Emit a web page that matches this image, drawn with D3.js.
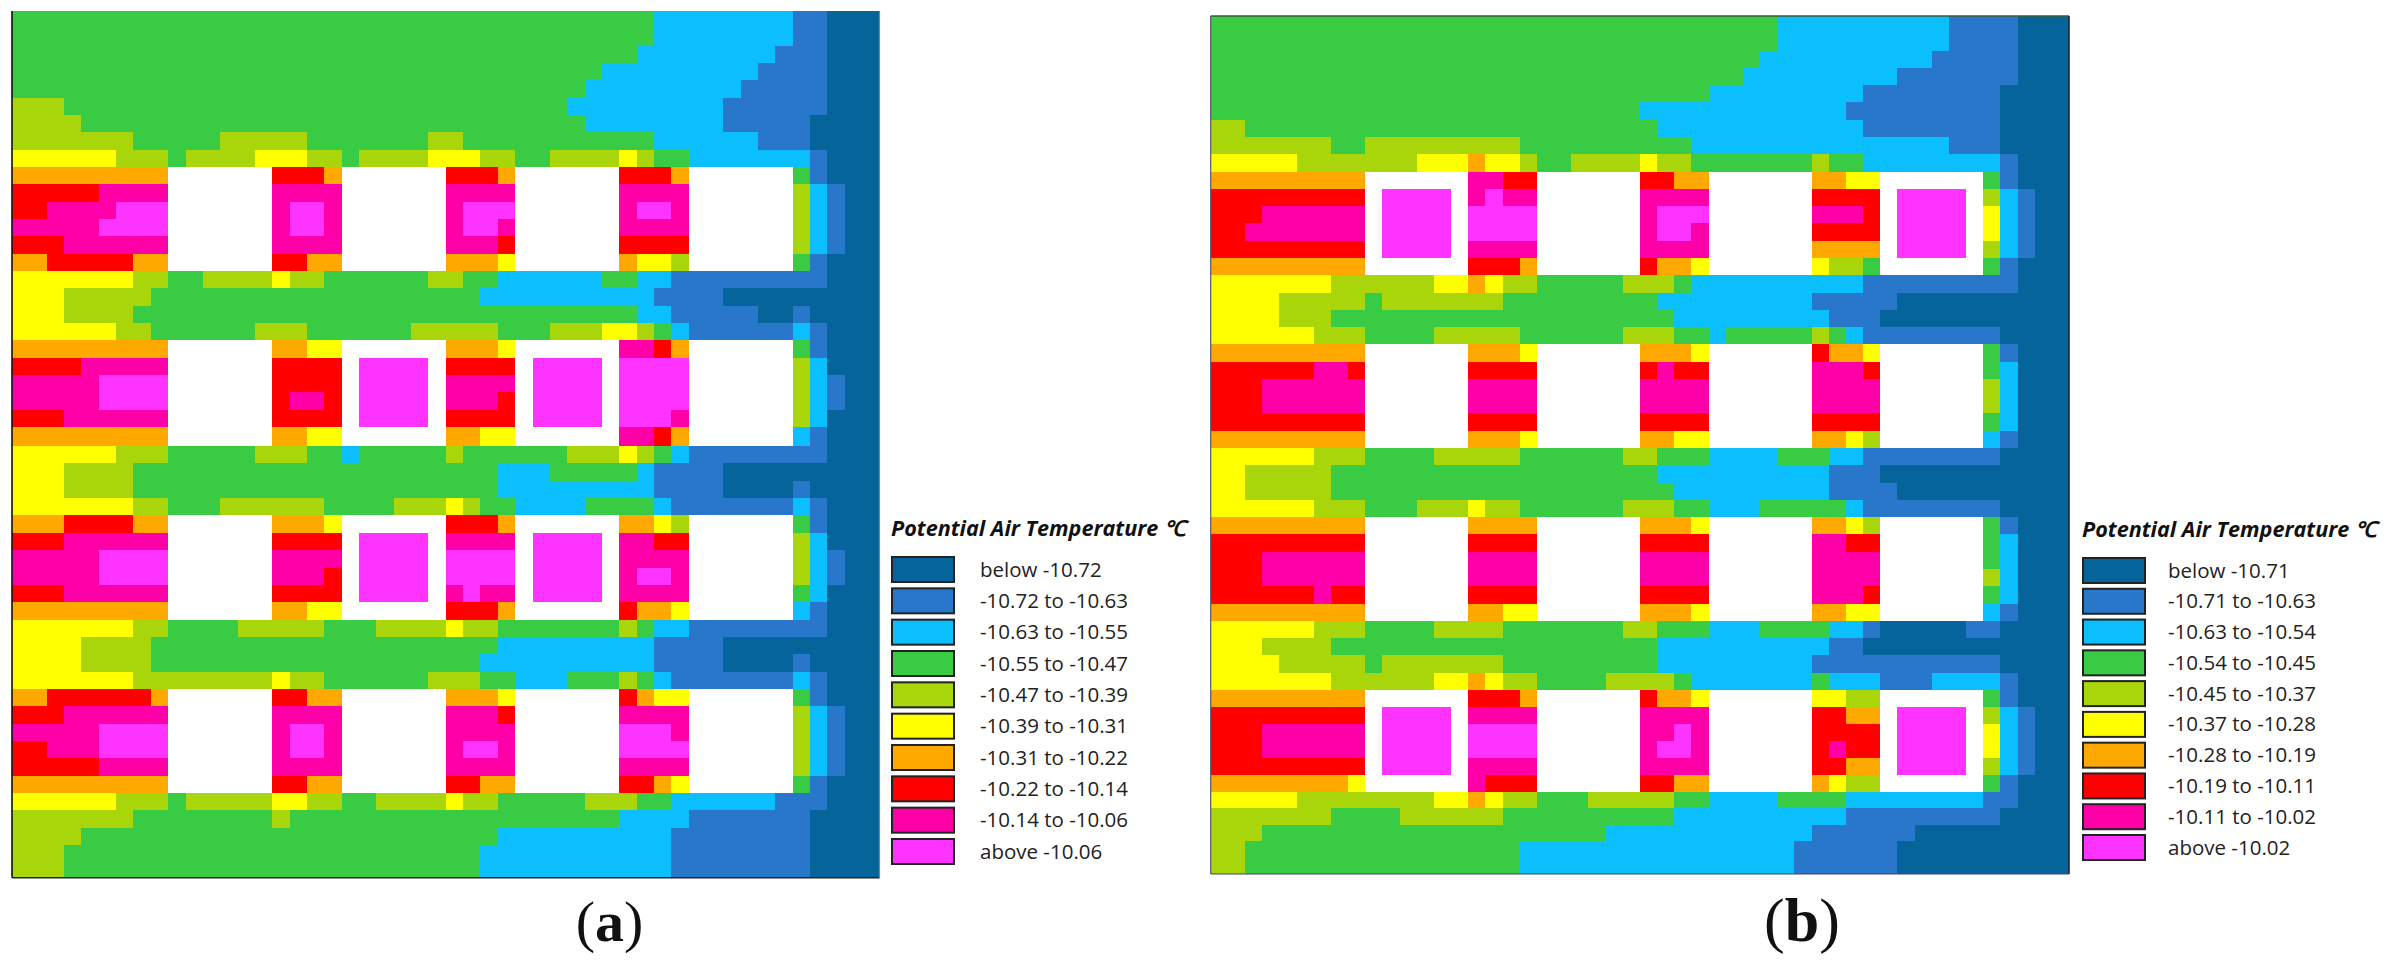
<!DOCTYPE html>
<html><head><meta charset="utf-8">
<script src="https://cdnjs.cloudflare.com/ajax/libs/d3/7.8.5/d3.min.js"></script>
<style>html,body{margin:0;padding:0;background:#fff}svg{display:block}</style>
</head><body><svg id="chart" width="2389" height="965"></svg>
<script>
// Temperature class per cell; each entry is "class@firstColumn" runs; "-" is a building (no data).
const classColours = ["#056499","#2877CA","#0BBFFF","#3ACB44","#A8D60A","#FFFF00","#FFA800","#FF0000","#FF00A8","#FF33FF"];
const noDataColour = "#FFFFFF";
const legendTitle = "Potential Air Temperature ℃";
const legendLabelsA = ["below -10.72","-10.72 to -10.63","-10.63 to -10.55","-10.55 to -10.47","-10.47 to -10.39","-10.39 to -10.31","-10.31 to -10.22","-10.22 to -10.14","-10.14 to -10.06","above -10.06"];
const legendLabelsB = ["below -10.71","-10.71 to -10.63","-10.63 to -10.54","-10.54 to -10.45","-10.45 to -10.37","-10.37 to -10.28","-10.28 to -10.19","-10.19 to -10.11","-10.11 to -10.02","above -10.02"];
const rowsA = [
"3@0 2@37 1@45 0@47","3@0 2@37 1@45 0@47","3@0 2@36 1@44 0@47","3@0 2@34 1@43 0@47","3@0 2@33 1@42 0@47",
"4@0 3@3 2@32 1@41 0@47","4@0 3@4 2@33 1@41 0@46","4@0 3@7 4@12 3@17 4@24 3@26 2@37 1@43 0@46",
"5@0 4@6 3@9 4@10 5@14 4@17 3@19 4@20 5@24 4@27 3@29 4@31 5@35 4@36 3@37 2@39 1@46 0@47",
"6@0 -@9 7@15 6@18 -@19 7@25 6@28 -@29 7@35 6@38 -@39 3@45 1@46 0@47",
"7@0 8@5 -@9 8@15 -@19 8@25 -@29 8@35 -@39 4@45 2@46 1@47 0@48",
"7@0 8@2 9@6 -@9 8@15 9@16 8@18 -@19 8@25 9@26 -@29 8@35 9@36 8@38 -@39 4@45 2@46 1@47 0@48",
"8@0 9@5 -@9 8@15 9@16 8@18 -@19 8@25 9@26 8@28 -@29 8@35 -@39 4@45 2@46 1@47 0@48",
"7@0 8@3 -@9 8@15 -@19 8@25 7@28 -@29 7@35 -@39 4@45 2@46 1@47 0@48",
"6@0 7@2 6@7 -@9 7@15 6@17 -@19 6@25 5@28 -@29 6@35 5@36 4@38 -@39 3@45 1@46 0@47",
"5@0 4@7 3@9 4@11 5@15 4@16 3@18 4@24 3@26 2@28 3@34 2@36 1@38 0@47",
"5@0 4@3 3@8 2@27 1@37 0@41","5@0 4@3 3@7 2@36 1@38 0@43 1@45 0@46",
"5@0 4@6 3@8 4@14 3@17 4@23 3@28 4@31 5@34 4@36 3@37 2@38 1@39 2@45 1@46 0@47",
"6@0 -@9 6@15 5@17 -@19 6@25 5@28 -@29 8@35 7@37 6@38 -@39 3@45 1@46 0@47",
"7@0 8@4 -@9 7@15 -@19 9@20 -@24 7@25 -@29 9@30 -@34 9@35 -@39 4@45 2@46 0@47",
"8@0 9@5 -@9 7@15 -@19 9@20 -@24 8@25 -@29 9@30 -@34 9@35 -@39 4@45 2@46 1@47 0@48",
"8@0 9@5 -@9 7@15 8@16 7@18 -@19 9@20 -@24 8@25 7@28 -@29 9@30 -@34 9@35 -@39 4@45 2@46 1@47 0@48",
"7@0 8@3 -@9 7@15 -@19 9@20 -@24 7@25 -@29 9@30 -@34 9@35 8@38 -@39 4@45 2@46 0@47",
"6@0 -@9 6@15 5@17 -@19 6@25 5@27 -@29 8@35 7@37 6@38 -@39 2@45 1@46 0@47",
"5@0 4@6 3@9 4@14 3@17 2@19 3@20 4@25 3@26 4@32 5@35 4@36 3@37 2@38 1@39 0@47",
"5@0 4@3 3@7 2@28 3@31 2@36 1@37 0@41","5@0 4@3 3@7 2@28 1@37 0@41 1@45 0@46",
"5@0 4@7 3@9 4@12 3@18 4@22 5@25 4@26 3@27 2@29 3@33 2@37 1@38 2@45 1@46 0@47",
"6@0 7@3 6@7 -@9 6@15 5@18 -@19 7@25 6@28 -@29 6@35 5@37 4@38 -@39 3@45 1@46 0@47",
"7@0 8@3 -@9 7@15 -@19 9@20 -@24 8@25 -@29 9@30 -@34 8@35 7@37 -@39 4@45 2@46 0@47",
"8@0 9@5 -@9 8@15 -@19 9@20 -@24 9@25 -@29 9@30 -@34 8@35 -@39 4@45 2@46 1@47 0@48",
"8@0 9@5 -@9 8@15 7@18 -@19 9@20 -@24 9@25 -@29 9@30 -@34 8@35 9@36 8@38 -@39 4@45 2@46 1@47 0@48",
"7@0 8@3 -@9 7@15 -@19 9@20 -@24 8@25 9@26 8@27 -@29 9@30 -@34 8@35 -@39 3@45 2@46 0@47",
"6@0 -@9 6@15 5@17 -@19 7@25 6@28 -@29 7@35 6@36 5@38 -@39 2@45 1@46 0@47",
"5@0 4@7 3@9 4@13 3@18 4@21 5@25 4@26 3@28 4@35 3@36 2@37 1@39 0@47",
"5@0 4@4 3@8 2@28 1@37 0@41","5@0 4@4 3@8 2@27 1@37 0@41 1@45 0@46",
"5@0 4@7 5@15 4@16 3@18 4@24 3@27 2@29 3@32 4@35 3@36 2@37 1@38 2@45 1@46 0@47",
"6@0 7@2 6@8 -@9 7@15 6@17 -@19 6@25 5@28 -@29 7@35 6@36 5@37 -@39 3@45 1@46 0@47",
"7@0 8@3 -@9 8@15 -@19 8@25 7@28 -@29 8@35 -@39 4@45 2@46 1@47 0@48",
"8@0 9@5 -@9 8@15 9@16 8@18 -@19 8@25 -@29 9@35 8@38 -@39 4@45 2@46 1@47 0@48",
"7@0 8@2 9@5 -@9 8@15 9@16 8@18 -@19 8@25 9@26 8@28 -@29 9@35 -@39 4@45 2@46 1@47 0@48",
"7@0 8@5 -@9 8@15 -@19 8@25 -@29 8@35 -@39 4@45 2@46 1@47 0@48",
"6@0 -@9 7@15 6@17 -@19 7@25 6@27 -@29 7@35 6@37 5@38 -@39 3@45 1@46 0@47",
"5@0 4@6 3@9 4@10 5@15 4@17 3@19 4@21 5@25 4@26 3@28 4@33 3@36 2@38 1@44 0@47",
"4@0 3@7 4@15 3@16 2@35 1@39 0@46","4@0 3@4 2@28 1@38 0@46","4@0 3@3 2@27 1@38 0@46","4@0 3@3 2@27 1@38 0@46"
];
const rowsB = [
"3@0 2@33 1@43 0@47","3@0 2@33 1@43 0@47","3@0 2@32 1@42 0@47","3@0 2@31 1@40 0@47","3@0 2@29 1@38 0@46","3@0 2@25 1@37 0@46",
"4@0 3@2 2@26 1@38 0@46","4@0 3@7 4@9 3@18 2@28 1@43 0@46",
"5@0 4@5 5@12 6@15 5@16 4@18 3@19 4@21 5@25 4@26 3@28 4@35 3@36 2@38 1@46 0@47",
"6@0 -@9 8@15 7@17 -@19 7@25 6@27 -@29 6@35 5@37 -@39 3@45 1@46 0@47",
"7@0 -@9 9@10 -@14 8@15 9@16 8@17 -@19 8@25 -@29 7@35 -@39 9@40 -@44 4@45 2@46 1@47 0@48",
"7@0 8@3 -@9 9@10 -@14 9@15 -@19 8@25 9@26 -@29 8@35 7@38 -@39 9@40 -@44 5@45 2@46 1@47 0@48",
"7@0 8@2 -@9 9@10 -@14 9@15 -@19 8@25 9@26 8@28 -@29 7@35 -@39 9@40 -@44 5@45 2@46 1@47 0@48",
"7@0 -@9 9@10 -@14 8@15 -@19 8@25 -@29 6@35 -@39 9@40 -@44 4@45 2@46 1@47 0@48",
"6@0 -@9 7@15 6@18 -@19 7@25 6@26 5@28 -@29 5@35 4@36 3@38 -@39 3@45 1@46 0@47",
"5@0 4@7 5@13 6@15 5@16 4@17 3@19 4@24 3@27 2@28 1@38 0@47",
"5@0 4@4 3@9 4@10 3@17 2@26 1@35 0@40","5@0 4@4 3@7 2@27 1@36 0@39",
"5@0 4@6 3@9 4@13 3@18 4@24 3@27 2@29 3@30 4@35 3@36 2@37 1@38 0@46",
"6@0 -@9 6@15 5@18 -@19 6@25 5@28 -@29 7@35 6@36 5@38 -@39 3@45 1@46 0@47",
"7@0 8@6 7@8 -@9 7@15 -@19 7@25 8@26 7@27 -@29 8@35 7@38 -@39 3@45 2@46 0@47",
"7@0 8@3 -@9 8@15 -@19 8@25 -@29 8@35 -@39 4@45 2@46 0@47","7@0 8@3 -@9 8@15 -@19 8@25 -@29 8@35 -@39 4@45 2@46 0@47",
"7@0 -@9 7@15 -@19 7@25 -@29 7@35 -@39 3@45 2@46 0@47",
"6@0 -@9 6@15 5@18 -@19 6@25 5@27 -@29 6@35 5@37 4@38 -@39 2@45 1@46 0@47",
"5@0 4@6 3@9 4@13 3@18 4@24 3@26 2@29 3@33 2@36 1@38 0@46",
"5@0 4@2 3@7 2@26 1@36 0@39","5@0 4@2 3@7 2@27 1@36 0@40",
"5@0 4@6 3@9 4@12 5@15 4@16 3@18 4@24 3@27 2@29 3@32 2@37 1@38 0@46",
"6@0 -@9 6@15 -@19 6@25 5@28 -@29 6@35 5@37 4@38 -@39 3@45 1@46 0@47",
"7@0 -@9 7@15 -@19 7@25 -@29 8@35 7@37 -@39 3@45 2@46 0@47",
"7@0 8@3 -@9 8@15 -@19 8@25 -@29 8@35 -@39 3@45 2@46 0@47",
"7@0 8@3 -@9 8@15 -@19 8@25 -@29 8@35 -@39 4@45 2@46 0@47",
"7@0 8@6 7@7 -@9 7@15 -@19 7@25 -@29 8@35 7@38 -@39 3@45 2@46 0@47",
"6@0 -@9 6@15 5@17 -@19 6@25 5@28 -@29 6@35 5@37 -@39 2@45 1@46 0@47",
"5@0 4@6 3@9 4@13 3@17 4@24 3@26 2@29 3@32 2@36 1@38 0@39 1@44 0@46",
"5@0 4@3 3@7 2@26 1@36 0@38","5@0 4@4 3@9 4@10 3@17 2@26 1@35 0@46",
"5@0 4@7 5@13 6@15 5@16 4@17 3@19 4@23 3@27 2@28 3@35 2@36 1@39 2@42 1@46 0@47",
"6@0 -@9 7@15 6@18 -@19 7@25 6@26 5@28 -@29 5@35 4@37 -@39 3@45 1@46 0@47",
"7@0 -@9 9@10 -@14 8@15 -@19 8@25 -@29 7@35 6@37 -@39 9@40 -@44 4@45 2@46 1@47 0@48",
"7@0 8@3 -@9 9@10 -@14 9@15 -@19 8@25 9@27 8@28 -@29 7@35 -@39 9@40 -@44 5@45 2@46 1@47 0@48",
"7@0 8@3 -@9 9@10 -@14 9@15 -@19 8@25 9@26 8@28 -@29 7@35 8@36 7@37 -@39 9@40 -@44 5@45 2@46 1@47 0@48",
"7@0 -@9 9@10 -@14 8@15 -@19 8@25 -@29 7@35 6@37 -@39 9@40 -@44 4@45 2@46 1@47 0@48",
"6@0 5@8 -@9 8@15 7@16 -@19 7@25 6@27 -@29 6@35 5@36 4@37 -@39 3@45 1@46 0@47",
"5@0 4@5 5@13 6@15 5@16 4@17 3@19 4@22 3@27 2@29 3@33 2@37 1@45 0@47",
"4@0 3@7 4@11 3@17 2@27 1@37 0@46","4@0 3@3 2@23 1@35 0@41","4@0 3@2 2@18 1@34 0@40","4@0 3@2 2@18 1@34 0@40"
];

const gridSize = 50;
const decodeRow = (row, r) => {
  const runs = row.split(" ").map(t => { const [k, s] = t.split("@"); return {k, s:+s}; });
  return runs.map((run, i) => ({r, c:run.s, end: i + 1 < runs.length ? runs[i+1].s : gridSize, k:run.k}));
};
const svg = d3.select("#chart");
const colour = d3.scaleOrdinal().domain(d3.range(10).map(String).concat("-")).range(classColours.concat(noDataColour));

function drawPanel(rows, labels, cfg) {
  const x = d3.scaleLinear().domain([0, gridSize]).range(cfg.xRange);
  const y = d3.scaleLinear().domain(cfg.yDomain).range(cfg.yRange);
  const cells = rows.flatMap(decodeRow).flatMap(run => d3.range(run.c, run.end).map(c => ({r:run.r, c, k:run.k})));
  const g = svg.append("g");
  g.selectAll("rect").data(cells).join("rect")
    .attr("x", d => x(d.c)).attr("y", d => y(d.r))
    .attr("width", d => x(d.c + 1) - x(d.c)).attr("height", d => y(d.r + 1) - y(d.r))
    .attr("fill", d => colour(d.k)).attr("shape-rendering", "crispEdges");
  const [x0, x1] = cfg.xRange, y0 = cfg.yRange[0], y1 = cfg.yRange[cfg.yRange.length - 1];
  cfg.frame.forEach(f => {
    g.append("line").attr("x1", f[0]==="r"?x1:x0).attr("x2", f[0]==="l"?x0:x1)
      .attr("y1", f[0]==="b"?y1:y0).attr("y2", f[0]==="t"?y0:y1)
      .attr("stroke", f[1]).attr("stroke-width", f[2]);
  });
  // legend
  const lg = svg.append("g");
  lg.append("text").attr("x", cfg.legendX).attr("y", cfg.titleY).text(legendTitle)
    .attr("font-family", "'Open Sans',sans-serif").attr("font-weight", 700).attr("font-style", "italic")
    .attr("font-size", cfg.titleSize).attr("fill", "#111");
  const ly = d3.scaleLinear().domain([0, 9]).range(cfg.swatchYs);
  const item = lg.selectAll("g.item").data(labels).join("g").attr("class", "item");
  item.append("rect").attr("x", cfg.legendX + 1).attr("y", (d, i) => ly(i))
    .attr("width", cfg.swatchW).attr("height", cfg.swatchH)
    .attr("fill", (d, i) => classColours[i]).attr("stroke", "#222").attr("stroke-width", 2);
  item.append("text").attr("x", cfg.labelX).attr("y", (d, i) => ly(i) + cfg.swatchH / 2 + 7).text(d => d)
    .attr("font-family", "'Open Sans',sans-serif").attr("font-size", cfg.labelSize).attr("fill", "#222");
  // caption
  const cap = svg.append("text").attr("x", cfg.captionX).attr("y", 941).attr("text-anchor", "middle")
    .attr("font-family", "'Liberation Serif',serif").attr("font-size", cfg.captionSize).attr("fill", "#111");
  cap.append("tspan").text("(");
  cap.append("tspan").attr("font-weight", 700).text(cfg.caption);
  cap.append("tspan").text(")");
}

drawPanel(rowsA, legendLabelsA, {
  xRange:[12, 879.5], yDomain:[0,24,25,35,48,50], yRange:[11,427,445.7,619.7,845,877.7],
  frame:[["l","#111",1.6],["b","#222",1.4],["r","#778899",1.2]],
  legendX:891, titleY:535.5, titleSize:21.6, swatchYs:[557,839], swatchW:62, swatchH:25, labelX:980, labelSize:20.5,
  captionX:609.5, captionSize:58, caption:"a"
});
drawPanel(rowsB, legendLabelsB, {
  xRange:[1210.7, 2069], yDomain:[0,39,45,50], yRange:[16,690,792,874],
  frame:[["t","#3a5a3a",1.4],["l","#556",1.2],["r","#223",1.6],["b","#446",1.0]],
  legendX:2082, titleY:537, titleSize:21.6, swatchYs:[558,835], swatchW:62, swatchH:25, labelX:2168, labelSize:20.5,
  captionX:1802, captionSize:62, caption:"b"
});
</script></body></html>
